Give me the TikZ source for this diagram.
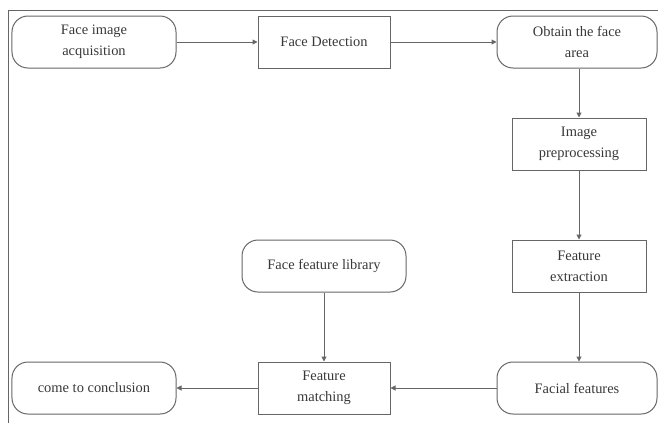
\documentclass[tikz,border=0pt]{standalone}
\usepackage{fontspec}
\setmainfont{Liberation Serif}
\usetikzlibrary{arrows.meta}
\begin{document}
\begin{tikzpicture}[x=1bp,y=-1bp,
  lc/.style={draw=black!60, line width=1bp},
  txt/.style={align=center, inner sep=1bp, font=\fontsize{14.5}{21}\selectfont, text=black!78},
  rbox/.style={lc, txt, rounded corners=16bp, minimum width=164bp, minimum height=52bp},
  sbox/.style={lc, txt, minimum width=132bp, minimum height=52bp},
  arr/.style={lc, -{Triangle[length=5bp,width=5bp]}}]
\useasboundingbox (0,0) rectangle (658,423);
\draw[draw=black!60, line width=1bp] (658,10) -- (8,10) -- (8,423);
\node[rbox] (acq) at (94,42) {Face image\\acquisition};
\node[sbox] (det) at (324,42) {Face Detection};
\node[rbox, minimum width=160bp] (area) at (577,42) {Obtain the face\\area};
\node[sbox, minimum width=134bp] (pre) at (579,144) {Image\\preprocessing};
\node[sbox, minimum width=134bp] (ext) at (579,266) {Feature\\extraction};
\node[rbox, minimum width=160bp] (fac) at (577,388) {Facial features};
\node[sbox] (mat) at (324,388) {Feature\\matching};
\node[rbox] (con) at (94,388) {come to conclusion};
\node[rbox] (lib) at (324,266) {Face feature library};
\draw[arr] (acq) -- (det);
\draw[arr] (det) -- (area);
\draw[arr] (pre.north |- area.south) -- (pre);
\draw[arr] (pre) -- (ext);
\draw[arr] (ext.south) -- (ext.south |- fac.north);
\draw[arr] (fac) -- (mat);
\draw[arr] (mat) -- (con);
\draw[arr] (lib) -- (mat);
\end{tikzpicture}
\end{document}
